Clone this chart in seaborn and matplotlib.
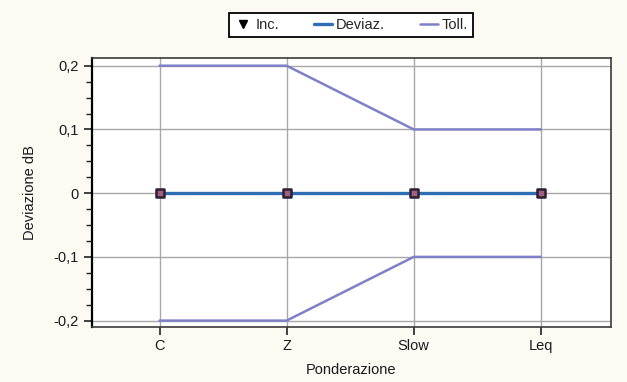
import matplotlib
matplotlib.use("Agg")
import matplotlib.pyplot as plt
from matplotlib.lines import Line2D
from matplotlib.ticker import MultipleLocator, FuncFormatter
import seaborn as sns
import pandas as pd

# Weighting categories and measured values (dB)
categories = ["C", "Z", "Slow", "Leq"]
deviazione = [0.0, 0.0, 0.0, 0.0]
incertezza = [0.0, 0.0, 0.0, 0.0]
toll_sup = [0.2, 0.2, 0.1, 0.1]
toll_inf = [-0.2, -0.2, -0.1, -0.1]

pos = list(range(len(categories)))
df = pd.DataFrame({
    "pos": pos,
    "deviazione": deviazione,
    "incertezza": incertezza,
    "toll_sup": toll_sup,
    "toll_inf": toll_inf,
})

sns.set_style("white")
plt.rcParams["font.family"] = ["Liberation Sans", "DejaVu Sans"]

fig = plt.figure(figsize=(6.27, 3.82), dpi=100, facecolor="#fbfbf4")
ax = fig.add_axes([0.147, 0.144, 0.827, 0.704])
ax.set_facecolor("white")

col_dev = "#2f6eb5"
col_toll = "#7f80c8"

sns.lineplot(data=df, x="pos", y="toll_sup", ax=ax, color=col_toll, linewidth=1.8, zorder=3)
sns.lineplot(data=df, x="pos", y="toll_inf", ax=ax, color=col_toll, linewidth=1.8, zorder=3)
sns.lineplot(data=df, x="pos", y="deviazione", ax=ax, color=col_dev, linewidth=2.4, zorder=4)
sns.scatterplot(data=df, x="pos", y="incertezza", ax=ax, marker="s", s=36,
                color="#a0607e", edgecolor="#2a1f33", linewidth=1.8, zorder=5)

ax.set_xlim(-0.53, 3.55)
ax.set_ylim(-0.21, 0.212)
ax.set_xticks(pos)
ax.set_xticklabels(categories)
ax.yaxis.set_major_locator(MultipleLocator(0.1))
ax.yaxis.set_minor_locator(MultipleLocator(0.025))
ax.yaxis.set_major_formatter(FuncFormatter(
    lambda v, _: "0" if abs(v) < 1e-9 else f"{v:.1f}".replace(".", ",")))

ax.grid(True, which="major", color="#a8a8a8", linewidth=1.0)
ax.set_axisbelow(True)
for s in ax.spines.values():
    s.set_color("#3a3a3a")
    s.set_linewidth(1.2)
ax.spines["left"].set_color("black")
ax.spines["left"].set_linewidth(1.6)

ax.tick_params(axis="both", which="major", direction="out", length=6, width=1.2,
               color="#222222", labelsize=10.5, labelcolor="#1a1a1a", left=True, bottom=True)
ax.tick_params(axis="y", which="minor", direction="out", length=4, width=1.0,
               color="#222222", left=True)
ax.tick_params(axis="x", pad=3)

ax.set_xlabel("Ponderazione", fontsize=10.5, color="#1a1a1a", labelpad=7)
ax.set_ylabel("Deviazione dB", fontsize=10.5, color="#1a1a1a", labelpad=12)

handles = [
    Line2D([], [], linestyle="none", marker="v", color="black", markersize=6),
    Line2D([], [], color=col_dev, linewidth=2.4),
    Line2D([], [], color=col_toll, linewidth=1.8),
]
leg = fig.legend(handles, ["Inc.", "Deviaz.", "Toll."], loc="center",
                 bbox_to_anchor=(0.56, 0.935), ncol=3, frameon=True, fancybox=False,
                 edgecolor="black", framealpha=1, fontsize=10.5, handlelength=1.2,
                 handletextpad=0.3, columnspacing=2.4, borderpad=0.35,
                 borderaxespad=0)
leg.get_frame().set_linewidth(1.3)

fig.savefig("out.png", dpi=100, facecolor=fig.get_facecolor())
